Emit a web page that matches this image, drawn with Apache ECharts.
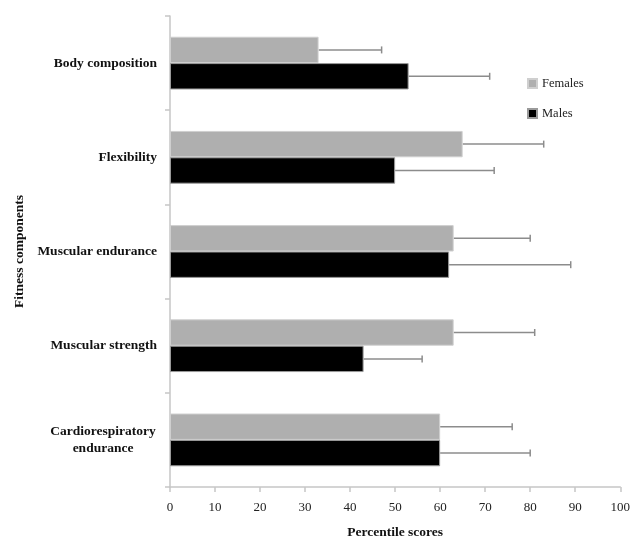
<!DOCTYPE html>
<html>
<head>
<meta charset="utf-8">
<script src="https://cdn.jsdelivr.net/npm/echarts@6/dist/echarts.min.js"></script>
<style>html,body{margin:0;padding:0;background:#fff}#c{width:633px;height:545px}</style>
</head>
<body>
<div id="c"></div>
<script>
const categories = ['Body composition', 'Flexibility', 'Muscular endurance', 'Muscular strength', 'Cardiorespiratory\nendurance'];
const females = [33, 65, 63, 63, 60];
const males = [53, 50, 62, 43, 60];
const femalesSD = [14, 18, 17, 18, 16];
const malesSD = [18, 22, 27, 13, 20];
const xTicks = [0, 10, 20, 30, 40, 50, 60, 70, 80, 90, 100];

const FONT = '"Liberation Serif", "Times New Roman", serif';
const GAP = 0.44;

function errData(vals, sds, s) {
  return vals.map((v, i) => [v, i, v + sds[i], s]);
}

function renderErr(params, api) {
  const v = api.value(0), i = api.value(1), e = api.value(2), s = api.value(3);
  const band = api.size([0, 1])[1];
  const barH = band * (1 - GAP) / 2;
  const off = s === 0 ? -barH / 2 : barH / 2;
  const p0 = api.coord([v, i]);
  const p1 = api.coord([e, i]);
  const y = p0[1] + off;
  const style = { stroke: '#8c8c8c', lineWidth: 1.5 };
  return {
    type: 'group',
    children: [
      { type: 'line', shape: { x1: p0[0], y1: y, x2: p1[0], y2: y }, style: style },
      { type: 'line', shape: { x1: p1[0], y1: y - 3.5, x2: p1[0], y2: y + 3.5 }, style: style }
    ]
  };
}

const chart = echarts.init(document.getElementById('c'), null, { renderer: 'canvas' });
chart.setOption({
  animation: false,
  backgroundColor: '#fff',
  grid: { left: 170, right: 10, top: 16, bottom: 52.3, containLabel: false },
  legend: {
    orient: 'vertical',
    left: 522,
    top: 72,
    itemWidth: 9,
    itemHeight: 9,
    itemGap: 17,
    icon: 'rect',
    data: ['Females', 'Males'],
    textStyle: { fontFamily: FONT, fontSize: 12.5, color: '#222' }
  },
  xAxis: {
    type: 'value',
    min: xTicks[0],
    max: xTicks[xTicks.length - 1],
    interval: 10,
    name: 'Percentile scores',
    nameLocation: 'middle',
    nameGap: 39,
    nameTextStyle: { fontFamily: FONT, fontSize: 13.5, fontWeight: 'bold', color: '#111' },
    axisLine: { show: true, lineStyle: { color: '#c6c6c6', width: 1.5 } },
    axisTick: { show: true, length: 5, lineStyle: { color: '#c6c6c6', width: 1.5 } },
    axisLabel: { fontFamily: FONT, fontSize: 13, color: '#222', margin: 14 },
    splitLine: { show: false }
  },
  yAxis: {
    type: 'category',
    inverse: true,
    data: categories,
    name: 'Fitness components',
    nameLocation: 'middle',
    nameGap: 143,
    nameRotate: 90,
    nameTextStyle: { fontFamily: FONT, fontSize: 13.5, fontWeight: 'bold', color: '#111' },
    axisLine: { show: true, lineStyle: { color: '#c6c6c6', width: 1.5 } },
    axisTick: { show: true, length: 5, lineStyle: { color: '#c6c6c6', width: 1.5 } },
    axisLabel: {
      fontFamily: FONT, fontSize: 13.5, fontWeight: 'bold', color: '#111', margin: 13, align: 'right',
      formatter: function (v) {
        return v.indexOf('\n') >= 0 ? v.split('\n').map(s => '{c|' + s + '}').join('\n') : v;
      },
      rich: { c: { width: 108, align: 'center', fontFamily: FONT, fontSize: 13.5, fontWeight: 'bold', color: '#111', lineHeight: 17 } }
    }
  },
  series: [
    {
      name: 'Females', type: 'bar', data: females,
      barGap: '0%', barCategoryGap: (GAP * 100) + '%',
      itemStyle: { color: '#afafaf', borderColor: '#cfcfcf', borderWidth: 1 }
    },
    {
      name: 'Males', type: 'bar', data: males,
      barGap: '0%', barCategoryGap: (GAP * 100) + '%',
      itemStyle: { color: '#000', borderColor: '#9a9a9a', borderWidth: 1 }
    },
    { type: 'custom', renderItem: renderErr, data: errData(females, femalesSD, 0), z: 1, silent: true },
    { type: 'custom', renderItem: renderErr, data: errData(males, malesSD, 1), z: 1, silent: true }
  ]
});
</script>
</body>
</html>
